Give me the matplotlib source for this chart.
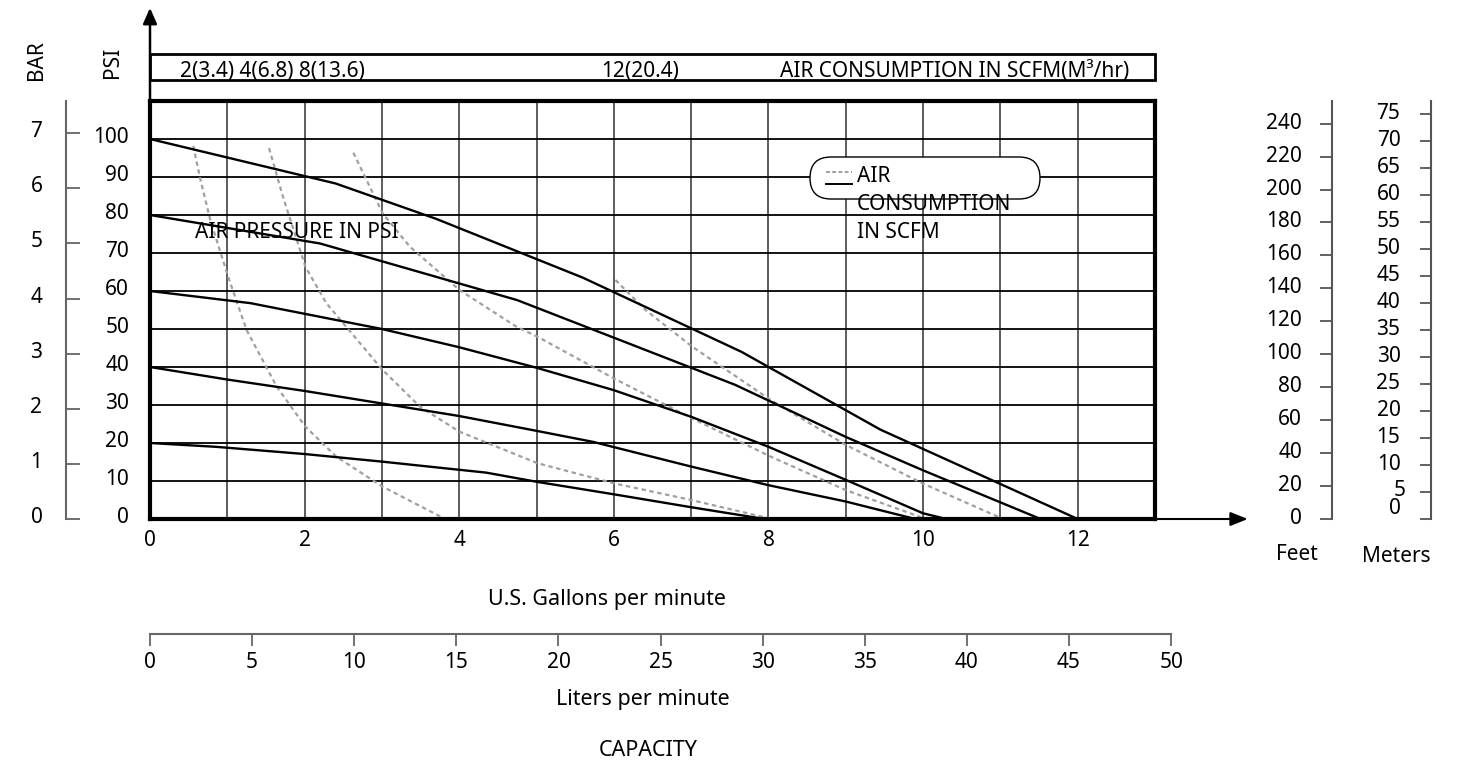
import matplotlib
matplotlib.use("Agg")
import matplotlib.pyplot as plt
import matplotlib.transforms as mtransforms
from matplotlib.patches import Rectangle, FancyBboxPatch
from matplotlib.lines import Line2D

plt.rcParams['font.family'] = ['Noto Sans', 'DejaVu Sans']

# pump curves: flow (US gpm) vs discharge pressure (psi) at each air inlet pressure
gpm_100 = [0, 2.4, 3.7, 5.6, 7.65, 9.45, 12.0]
psi_100 = [100, 88.3, 79.0, 63.5, 44.0, 23.5, 0]
gpm_80 = [0, 2.2, 4.75, 7.57, 9.0, 10.0, 11.52]
psi_80 = [80, 72.5, 57.6, 35.3, 21.6, 12.8, 0]
gpm_60 = [0, 1.3, 3.0, 4.0, 5.0, 6.0, 7.0, 8.0, 9.0, 10.0, 10.3]
psi_60 = [60, 56.8, 50.0, 45.2, 39.8, 33.9, 26.9, 19.0, 10.3, 1.5, 0]
gpm_40 = [0, 1, 2, 3, 4, 5, 5.73, 7, 8, 9, 9.9]
psi_40 = [40, 36.7, 33.7, 30.4, 27.1, 23.2, 20.3, 13.8, 8.9, 4.6, 0]
gpm_20 = [0, 0.85, 2, 3, 4.35, 5, 6, 7, 7.95]
psi_20 = [20, 19.0, 17.1, 15.1, 12.2, 9.8, 6.5, 3.1, 0]

# air consumption curves (scfm)
gpm_scfm2 = [0.56, 0.65, 0.78, 1.01, 1.25, 1.64, 2.01, 2.41, 3.01, 3.77]
psi_scfm2 = [98.2, 89.5, 78.7, 63.8, 49.7, 34.8, 24.3, 16.4, 8.5, 0.5]
gpm_scfm4 = [1.54, 1.72, 1.9, 2.01, 2.28, 3.01, 3.49, 4.0, 5.01, 6.0, 7.0, 7.94]
psi_scfm4 = [97.6, 84.8, 73.4, 66.4, 56.8, 39.2, 29.6, 23.0, 14.7, 9.4, 5.0, 0.5]
gpm_scfm8 = [2.63, 3.01, 3.36, 4.0, 4.74, 5.01, 6.0, 7.01, 8.03, 9.0, 9.97]
psi_scfm8 = [96.4, 80.4, 71.7, 60.3, 50.6, 48.0, 37.0, 26.5, 16.4, 7.6, 0.5]
gpm_scfm12 = [6.02, 6.41, 7.01, 8.03, 9.0, 9.99, 10.98]
psi_scfm12 = [62.9, 55.0, 45.4, 31.3, 19.5, 9.4, 0.5]

gpm_ticks = [0, 2, 4, 6, 8, 10, 12]
psi_ticks = [0, 10, 20, 30, 40, 50, 60, 70, 80, 90, 100]
bar_ticks = [0, 1, 2, 3, 4, 5, 6, 7]
feet_ticks = [0, 20, 40, 60, 80, 100, 120, 140, 160, 180, 200, 220, 240]
meter_ticks = [0, 5, 10, 15, 20, 25, 30, 35, 40, 45, 50, 55, 60, 65, 70, 75]
lpm_ticks = [0, 5, 10, 15, 20, 25, 30, 35, 40, 45, 50]

PSI_PER_BAR = 14.5038
FT_PER_PSI = 2.3067
M_PER_PSI = 0.7031
L_PER_GAL = 3.78541

W, H = 1466, 766
fig = plt.figure(figsize=(W / 100, H / 100), dpi=100)


def box(x0, y0, x1, y1):
    # pixel box, y measured from the top of the image
    return [x0 / W, 1 - y1 / H, (x1 - x0) / W, (y1 - y0) / H]


def ftext(x, y, s, **kw):
    fig.text(x / W, 1 - y / H, s, **kw)


def nudge(labels, dx=0, dy=4):
    off = mtransforms.ScaledTranslation(dx / 100, dy / 100, fig.dpi_scale_trans)
    for lbl in labels:
        lbl.set_transform(lbl.get_transform() + off)


# main chart
ax = fig.add_axes(box(150, 101, 1155, 519))
ax.set_xlim(0, 13)
ax.set_ylim(0, 110)
ax.vlines(range(1, 13), 0, 110, color='#5c5c5c', lw=1.4, zorder=1)
ax.hlines(range(10, 110, 10), 0, 13, color='black', lw=1.3, zorder=1)

for g, p in [(gpm_100, psi_100), (gpm_80, psi_80), (gpm_60, psi_60),
             (gpm_40, psi_40), (gpm_20, psi_20)]:
    ax.plot(g, p, color='black', lw=1.7, zorder=3)

for g, p in [(gpm_scfm2, psi_scfm2), (gpm_scfm4, psi_scfm4),
             (gpm_scfm8, psi_scfm8), (gpm_scfm12, psi_scfm12)]:
    ax.plot(g, p, color='#a0a0a0', lw=1.6, ls=(0, (2, 1.6)), zorder=2)

for s in ax.spines.values():
    s.set_linewidth(3)
ax.set_xticks(gpm_ticks)
ax.set_yticks(psi_ticks)
ax.tick_params(axis='x', length=0, pad=8, labelsize=15)
ax.tick_params(axis='y', length=0, pad=15, labelsize=15)
nudge(ax.get_yticklabels())

# arrows on the axes
ax.annotate('', xy=(0, 134.5), xytext=(0, 110), annotation_clip=False,
            arrowprops=dict(arrowstyle='-|>,head_length=0.95,head_width=0.42',
                            lw=1.8, color='black', shrinkA=0, shrinkB=0))
ax.annotate('', xy=(14.2, 0), xytext=(13, 0), annotation_clip=False,
            arrowprops=dict(arrowstyle='-|>,head_length=1.05,head_width=0.42',
                            lw=1.5, color='black', shrinkA=0, shrinkB=0))

# air consumption header strip
ax.add_patch(Rectangle((0, 115.5), 13, 6.9, fill=False, lw=2, ec='black', clip_on=False))
ax.text(0.39, 116.3, '2(3.4) 4(6.8) 8(13.6)', fontsize=15, va='baseline')
ax.text(5.83, 116.3, '12(20.4)', fontsize=15, va='baseline')
ax.text(8.15, 116.3, 'AIR CONSUMPTION IN SCFM(M³/hr)', fontsize=15, va='baseline')

ax.text(0.58, 75.5, 'AIR PRESSURE IN PSI', fontsize=15, va='center', zorder=6)

# legend
ax.add_patch(FancyBboxPatch((8.10, (H - 199) / 100), 2.30, 0.42,
                            boxstyle='round,pad=0,rounding_size=0.21',
                            transform=fig.dpi_scale_trans, fc='white', ec='black',
                            lw=1, zorder=5, clip_on=False))
ax.add_artist(Line2D([8.26, 8.52], [(H - 172) / 100] * 2, transform=fig.dpi_scale_trans,
                     color='#a0a0a0', lw=1.4, ls=(0, (2, 1.2)), zorder=6))
ax.add_artist(Line2D([8.26, 8.52], [(H - 184) / 100] * 2, transform=fig.dpi_scale_trans,
                     color='black', lw=1.4, zorder=6))
for i, line in enumerate(['AIR', 'CONSUMPTION', 'IN SCFM']):
    ax.text(8.57, (H - 177 - 28 * i) / 100, line, transform=fig.dpi_scale_trans,
            fontsize=15, va='center', zorder=6)

# BAR axis
axb = fig.add_axes(box(66, 101, 67, 519))
axb.set_ylim(0, 110 / PSI_PER_BAR)
axb.set_yticks(bar_ticks)
axb.set_xticks([])
for k in ['top', 'right', 'bottom']:
    axb.spines[k].set_visible(False)
axb.spines['left'].set_color('#666666')
axb.spines['left'].set_linewidth(1.5)
axb.tick_params(axis='y', direction='in', length=10, width=1.3, color='#666666',
                pad=17, labelsize=15)
axb.patch.set_visible(False)
nudge(axb.get_yticklabels())

# Feet axis
axf = fig.add_axes(box(1332, 101, 1333, 519))
axf.set_ylim(0, 110 * FT_PER_PSI)
axf.set_yticks(feet_ticks)
axf.set_xticks([])
for k in ['top', 'right', 'bottom']:
    axf.spines[k].set_visible(False)
axf.spines['left'].set_color('#555555')
axf.spines['left'].set_linewidth(1.5)
axf.tick_params(axis='y', direction='out', length=8.6, width=1.3, color='#555555',
                pad=13, labelsize=15)
axf.patch.set_visible(False)
nudge(axf.get_yticklabels(), dy=3)

# Meters axis
axm = fig.add_axes(box(1431, 101, 1432, 519))
axm.set_ylim(0, 110 * M_PER_PSI)
axm.set_yticks(meter_ticks)
axm.set_xticks([])
for k in ['top', 'right', 'bottom']:
    axm.spines[k].set_visible(False)
axm.spines['left'].set_color('#555555')
axm.spines['left'].set_linewidth(1.5)
axm.tick_params(axis='y', direction='out', length=8, width=1.3, color='#555555',
                pad=14, labelsize=15)
axm.patch.set_visible(False)
mlabels = axm.get_yticklabels()
nudge(mlabels[2:], dy=3)
nudge([mlabels[1]], dx=5, dy=4)
nudge([mlabels[0]], dy=13)

# Liters per minute axis
axl = fig.add_axes(box(150, 633, 150 + 50 / L_PER_GAL * 1005 / 13, 634))
axl.set_xlim(0, 50)
axl.set_xticks(lpm_ticks)
axl.set_yticks([])
for k in ['top', 'right', 'left']:
    axl.spines[k].set_visible(False)
axl.spines['bottom'].set_color('#666666')
axl.spines['bottom'].set_linewidth(1.5)
axl.tick_params(axis='x', direction='out', length=8.6, width=1.3, color='#666666',
                pad=4, labelsize=15)
axl.patch.set_visible(False)

# titles
ftext(37, 60, 'BAR', rotation=90, fontsize=15, ha='center', va='center')
ftext(113, 62, 'PSI', rotation=90, fontsize=15, ha='center', va='center')
ftext(1297, 555, 'Feet', fontsize=15, ha='center', va='center')
ftext(1396, 556, 'Meters', fontsize=15, ha='center', va='center')
ftext(607, 600, 'U.S. Gallons per minute', fontsize=15.5, ha='center', va='center')
ftext(643, 699, 'Liters per minute', fontsize=15.5, ha='center', va='center')
ftext(648, 750, 'CAPACITY', fontsize=15.5, ha='center', va='center')

fig.savefig('out.png', dpi=100)
